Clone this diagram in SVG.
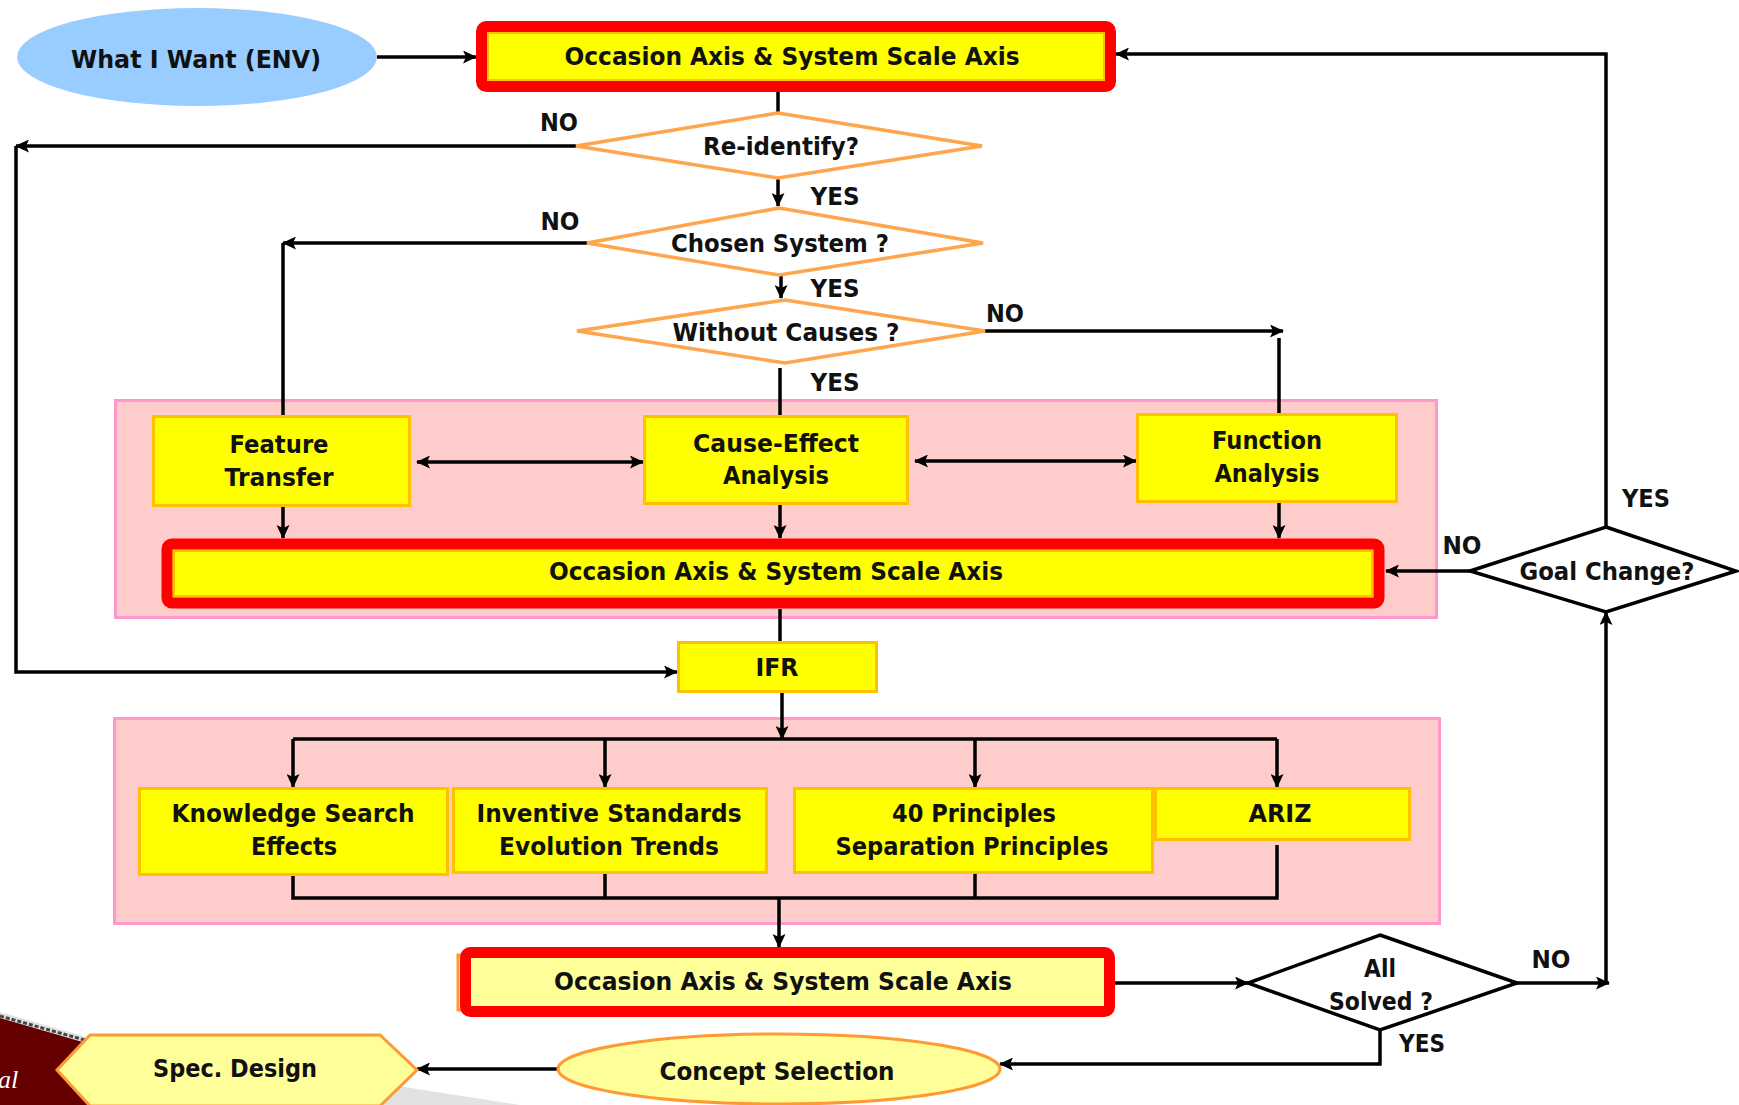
<svg xmlns="http://www.w3.org/2000/svg" width="1739" height="1105" viewBox="0 0 1739 1105">
<defs>
<style>
text{font-family:"DejaVu Sans","Liberation Sans",sans-serif;font-weight:bold;font-size:24px;fill:#111;text-anchor:middle}
.box{fill:#FFFF00;stroke:#FFC000;stroke-width:3}
.redbox{fill:#FFFF00;stroke:#FF0000;stroke-width:11}
.inner{fill:none;stroke:#FFC000;stroke-width:2}
.pink{fill:#FFCCCC;stroke:#FF99CC;stroke-width:3}
.odia{fill:#FFFFFF;stroke:#FFA64D;stroke-width:3.5}
.bdia{fill:#FFFFFF;stroke:#000;stroke-width:3.5}
.pale{fill:#FFFF99;stroke:#FF9933;stroke-width:3}
.c{fill:none;stroke:#000;stroke-width:3.5}
.a{marker-end:url(#ah)}
.d{marker-end:url(#ah);marker-start:url(#ah)}
</style>
<marker id="ah" viewBox="0 0 14 13" refX="13" refY="6.5" markerWidth="14" markerHeight="13" markerUnits="userSpaceOnUse" orient="auto-start-reverse">
<path d="M0,0 L14,6.5 L0,13 L3,6.5 z" fill="#000"/>
</marker>
</defs>
<rect width="1739" height="1105" fill="#FFFFFF"/>

<g id="background-corner">
<polygon points="0,1012 90,1038 520,1105 0,1105" fill="#E2E2E2"/>
<polygon points="0,1018 86,1043 102,1105 0,1105" fill="#650000"/>
<line x1="0" y1="1016" x2="88" y2="1041" stroke="#444" stroke-width="3" stroke-dasharray="4 2"/>
<text x="-2" y="1088" style="font-family:'Liberation Serif',serif;font-style:italic;font-weight:normal;fill:#fff;font-size:26px;text-anchor:start">al</text>
</g>

<g id="region1"><rect class="pink" x="115.5" y="400.5" width="1321" height="217"/></g>
<g id="region2"><rect class="pink" x="114.5" y="718.5" width="1325" height="205"/></g>

<g id="connectors">
<line class="c a" x1="377" y1="57" x2="476" y2="57"/>
<line class="c" x1="778" y1="92" x2="778" y2="113"/>
<line class="c a" x1="576" y1="146" x2="16" y2="146"/>
<polyline class="c a" points="16,146 16,672 677,672"/>
<line class="c a" x1="778" y1="179" x2="778" y2="206"/>
<line class="c a" x1="587" y1="243" x2="283" y2="243"/>
<line class="c" x1="283" y1="243" x2="283" y2="416"/>
<line class="c a" x1="781" y1="276" x2="781" y2="298"/>
<line class="c a" x1="985" y1="331" x2="1283" y2="331"/>
<line class="c" x1="1279" y1="338" x2="1279" y2="414"/>
<line class="c" x1="780" y1="368" x2="780" y2="416"/>
<line class="c d" x1="417" y1="462" x2="643" y2="462"/>
<line class="c d" x1="915" y1="461" x2="1136" y2="461"/>
<line class="c a" x1="283" y1="507" x2="283" y2="538"/>
<line class="c a" x1="780" y1="505" x2="780" y2="538"/>
<line class="c a" x1="1279" y1="503" x2="1279" y2="538"/>
<line class="c" x1="780" y1="609" x2="780" y2="642"/>
<line class="c a" x1="782" y1="693" x2="782" y2="739"/>
<line class="c" x1="293" y1="739" x2="1277" y2="739"/>
<line class="c a" x1="293" y1="739" x2="293" y2="787"/>
<line class="c a" x1="605" y1="739" x2="605" y2="787"/>
<line class="c a" x1="975" y1="739" x2="975" y2="787"/>
<line class="c a" x1="1277" y1="739" x2="1277" y2="787"/>
<polyline class="c" points="293,876 293,898 1277,898 1277,845"/>
<line class="c" x1="605" y1="874" x2="605" y2="898"/>
<line class="c" x1="975" y1="874" x2="975" y2="898"/>
<line class="c a" x1="779" y1="898" x2="779" y2="947"/>
<line class="c a" x1="1115" y1="983" x2="1248" y2="983"/>
<line class="c a" x1="1517" y1="983" x2="1609" y2="983"/>
<line class="c a" x1="1606" y1="983" x2="1606" y2="612"/>
<polyline class="c a" points="1606,527 1606,54 1116,54"/>
<line class="c a" x1="1470" y1="571" x2="1386" y2="571"/>
<polyline class="c a" points="1380,1030 1380,1064 1000,1064"/>
<line class="c a" x1="558" y1="1069" x2="417" y2="1069"/>
</g>

<g id="what-i-want">
<ellipse cx="197" cy="57" rx="180" ry="49" fill="#99CCFF"/>
<text x="196" y="68" textLength="250" lengthAdjust="spacingAndGlyphs">What I Want (ENV)</text>
</g>

<g id="axis-top">
<rect class="redbox" x="481.5" y="26.5" width="629" height="60" rx="5"/>
<rect class="inner" x="488" y="33" width="616" height="47"/>
<text x="792" y="65" textLength="455" lengthAdjust="spacingAndGlyphs">Occasion Axis &amp; System Scale Axis</text>
</g>

<g id="re-identify">
<polygon class="odia" points="778,113 982,146 778,178 576,146"/>
<text x="781" y="155" textLength="156" lengthAdjust="spacingAndGlyphs">Re-identify?</text>
</g>

<g id="chosen-system">
<polygon class="odia" points="779,208 983,243 779,275 587,243"/>
<text x="780" y="252" textLength="218" lengthAdjust="spacingAndGlyphs">Chosen System ?</text>
</g>

<g id="without-causes">
<polygon class="odia" points="785,300 985,331 785,363 577,331"/>
<text x="786" y="341" textLength="227" lengthAdjust="spacingAndGlyphs">Without Causes ?</text>
</g>

<g id="labels">
<text x="559" y="131" textLength="38" lengthAdjust="spacingAndGlyphs">NO</text>
<text x="835" y="205" textLength="49" lengthAdjust="spacingAndGlyphs">YES</text>
<text x="560" y="230" textLength="39" lengthAdjust="spacingAndGlyphs">NO</text>
<text x="835" y="297" textLength="49" lengthAdjust="spacingAndGlyphs">YES</text>
<text x="1005" y="322" textLength="38" lengthAdjust="spacingAndGlyphs">NO</text>
<text x="835" y="391" textLength="49" lengthAdjust="spacingAndGlyphs">YES</text>
<text x="1646" y="507" textLength="48" lengthAdjust="spacingAndGlyphs">YES</text>
<text x="1462" y="554" textLength="39" lengthAdjust="spacingAndGlyphs">NO</text>
<text x="1551" y="968" textLength="39" lengthAdjust="spacingAndGlyphs">NO</text>
<text x="1422" y="1052" textLength="46" lengthAdjust="spacingAndGlyphs">YES</text>
</g>

<g id="feature-transfer">
<rect class="box" x="153.5" y="416.5" width="256" height="89"/>
<text x="279" y="453" textLength="99" lengthAdjust="spacingAndGlyphs">Feature</text>
<text x="279" y="486" textLength="109" lengthAdjust="spacingAndGlyphs">Transfer</text>
</g>

<g id="cause-effect">
<rect class="box" x="644.5" y="416.5" width="263" height="87"/>
<text x="776" y="452" textLength="166" lengthAdjust="spacingAndGlyphs">Cause-Effect</text>
<text x="776" y="484" textLength="106" lengthAdjust="spacingAndGlyphs">Analysis</text>
</g>

<g id="function-analysis">
<rect class="box" x="1137.5" y="414.5" width="259" height="87"/>
<text x="1267" y="449" textLength="110" lengthAdjust="spacingAndGlyphs">Function</text>
<text x="1267" y="482" textLength="105" lengthAdjust="spacingAndGlyphs">Analysis</text>
</g>

<g id="axis-middle">
<rect class="redbox" x="167" y="544" width="1212" height="59" rx="5"/>
<rect class="inner" x="174" y="551" width="1198" height="45"/>
<text x="776" y="580" textLength="454" lengthAdjust="spacingAndGlyphs">Occasion Axis &amp; System Scale Axis</text>
</g>

<g id="goal-change">
<polygon class="bdia" points="1606,527 1736,571 1606,612 1470,571"/>
<text x="1607" y="580" textLength="175" lengthAdjust="spacingAndGlyphs">Goal Change?</text>
</g>

<g id="ifr">
<rect class="box" x="678.5" y="642.5" width="198" height="49"/>
<text x="777" y="676" textLength="43" lengthAdjust="spacingAndGlyphs">IFR</text>
</g>

<g id="knowledge-search">
<rect class="box" x="139.5" y="788.5" width="308" height="86"/>
<text x="293" y="822" textLength="243" lengthAdjust="spacingAndGlyphs">Knowledge Search</text>
<text x="294" y="855" textLength="86" lengthAdjust="spacingAndGlyphs">Effects</text>
</g>

<g id="inventive-standards">
<rect class="box" x="453.5" y="788.5" width="313" height="84"/>
<text x="609" y="822" textLength="265" lengthAdjust="spacingAndGlyphs">Inventive Standards</text>
<text x="609" y="855" textLength="220" lengthAdjust="spacingAndGlyphs">Evolution Trends</text>
</g>

<g id="forty-principles">
<rect class="box" x="794.5" y="788.5" width="358" height="84"/>
<text x="974" y="822" textLength="164" lengthAdjust="spacingAndGlyphs">40 Principles</text>
<text x="972" y="855" textLength="273" lengthAdjust="spacingAndGlyphs">Separation Principles</text>
</g>

<g id="ariz">
<rect class="box" x="1155.5" y="788.5" width="254" height="51"/>
<text x="1280" y="822" textLength="63" lengthAdjust="spacingAndGlyphs">ARIZ</text>
</g>

<g id="axis-bottom">
<rect x="458" y="955" width="30" height="55" fill="#FFFF99" stroke="#FF9933" stroke-width="3"/>
<rect x="465.5" y="952.5" width="644" height="59" rx="5" fill="#FFFF99" stroke="#FF0000" stroke-width="11"/>
<text x="783" y="990" textLength="458" lengthAdjust="spacingAndGlyphs">Occasion Axis &amp; System Scale Axis</text>
</g>

<g id="all-solved">
<polygon class="bdia" points="1380,935 1517,983 1380,1030 1248,983"/>
<text x="1380" y="977" textLength="32" lengthAdjust="spacingAndGlyphs">All</text>
<text x="1381" y="1010" textLength="104" lengthAdjust="spacingAndGlyphs">Solved ?</text>
</g>

<g id="concept-selection">
<ellipse class="pale" cx="779" cy="1069" rx="221" ry="35"/>
<text x="777" y="1080" textLength="235" lengthAdjust="spacingAndGlyphs">Concept Selection</text>
</g>

<g id="spec-design">
<polygon class="pale" points="57,1070 90,1035 380,1035 417,1070 380,1106 90,1106"/>
<text x="235" y="1077" textLength="164" lengthAdjust="spacingAndGlyphs">Spec. Design</text>
</g>
</svg>
